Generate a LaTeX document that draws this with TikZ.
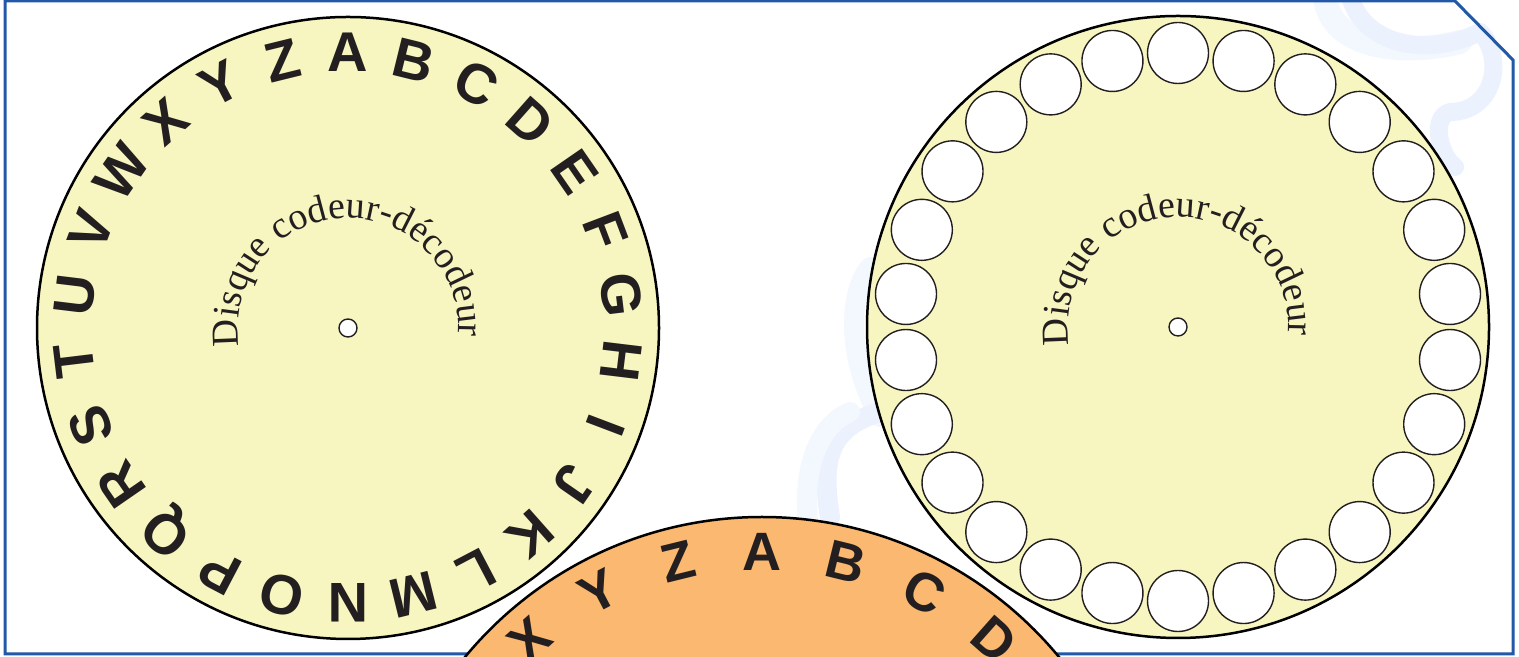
\documentclass[tikz,border=0pt]{standalone}
\usepackage{fontspec}
\setmainfont{Liberation Serif}
\newfontfamily\letterfont{Liberation Sans}
\usetikzlibrary{decorations.text}
\definecolor{diskyellow}{HTML}{F7F6C0}
\definecolor{diskorange}{HTML}{FAB870}
\definecolor{ink}{HTML}{231F20}
\definecolor{framecol}{HTML}{2258A8}
\definecolor{wmA}{HTML}{EBF1FD}
\definecolor{wmB}{HTML}{F3F7FE}
\newcommand\curvefont{\fontsize{19}{19}\selectfont}
\begin{document}
\begin{tikzpicture}[x=0.5pt,y=0.5pt,
  disk/.style={draw=black,line width=1.25pt},
  hole/.style={draw=ink,line width=0.7pt,fill=white},
  letter/.style={font=\letterfont\bfseries\fontsize{28}{28}\selectfont, text=ink,
    inner sep=0pt, text height=20pt, text depth=0pt, anchor=center},
  bigletter/.style={font=\letterfont\bfseries\fontsize{27}{27}\selectfont, text=ink,
    inner sep=0pt, text height=19.3pt, text depth=0pt, anchor=center},
  wmstroke/.style={line width=9pt,line cap=round,line join=round}]
\useasboundingbox (0,0) rectangle (1519,657);
\fill[white] (0,0) rectangle (1519,657);
% faint watermark
\draw[wmB,wmstroke,line width=12pt] (1325,660) .. controls (1330,610) and (1400,600) .. (1460,615);
\draw[wmA,wmstroke] (1350,660) .. controls (1365,610) and (1430,600) .. (1480,625)
   .. controls (1505,600) and (1495,545) .. (1450,545) .. controls (1430,540) and (1440,500) .. (1455,490);
\draw[wmB,wmstroke,line width=10pt] (870,390) .. controls (845,360) and (850,290) .. (880,240);
\draw[wmA,wmstroke,line width=10pt] (830,140) .. controls (820,200) and (830,230) .. (880,245)
   .. controls (960,250) and (990,200) .. (985,160);
\draw[wmB,wmstroke,line width=10pt] (810,120) .. controls (800,180) and (815,230) .. (850,245);
% frame
\draw[framecol,line width=1.5pt] (5,3) -- (5,656) -- (1455,656) -- (1513,597) -- (1513,3) -- cycle;
% left disk
\coordinate (LC) at (348,329);
\draw[disk,fill=diskyellow] (LC) circle[radius=311];
\foreach \l [count=\k from 0] in {A,B,C,D,E,F,G,H,I,J,K,L,M,N,O,P,Q,R,S,T,U,V,W,X,Y,Z}{
  \pgfmathsetmacro\ang{90-\k*360/26}
  \pgfmathsetmacro\rot{\ang-90}
  \path (LC) ++(\ang:276) node[letter,rotate=\rot] (l\k) {\l};
}
\path[decorate,decoration={text along path,text color=ink,
  text={|\curvefont|Disque codeur-décodeur},text align=center}]
  (LC) ++(197.5:110) arc[start angle=197.5,end angle=-12.5,radius=110];
\draw[hole] (LC) circle[radius=9];
% right disk
\coordinate (RC) at (1178,330);
\draw[disk,fill=diskyellow] (RC) circle[radius=311];
\foreach \k in {0,...,25}{
  \pgfmathsetmacro\ang{90-\k*360/26}
  \draw[hole] (RC) ++(\ang:274) circle[radius=30.5];
}
\path[decorate,decoration={text along path,text color=ink,
  text={|\curvefont|Disque codeur-décodeur},text align=center}]
  (RC) ++(197.5:110) arc[start angle=197.5,end angle=-12.5,radius=110];
\draw[hole] (RC) circle[radius=9];
% bottom orange disk
\coordinate (OC) at (762,-245);
\draw[disk,fill=diskorange] (OC) circle[radius=385];
\foreach \l [count=\k from 0] in {A,B,C,D,E,F,G,H,I,J,K,L,M,N,O,P,Q,R,S,T,U,V,W,X,Y,Z}{
  \pgfmathsetmacro\ang{90-\k*360/26}
  \pgfmathsetmacro\rot{\ang-90}
  \path (OC) ++(\ang:351) node[bigletter,rotate=\rot] (o\k) {\l};
}
\end{tikzpicture}
\end{document}
